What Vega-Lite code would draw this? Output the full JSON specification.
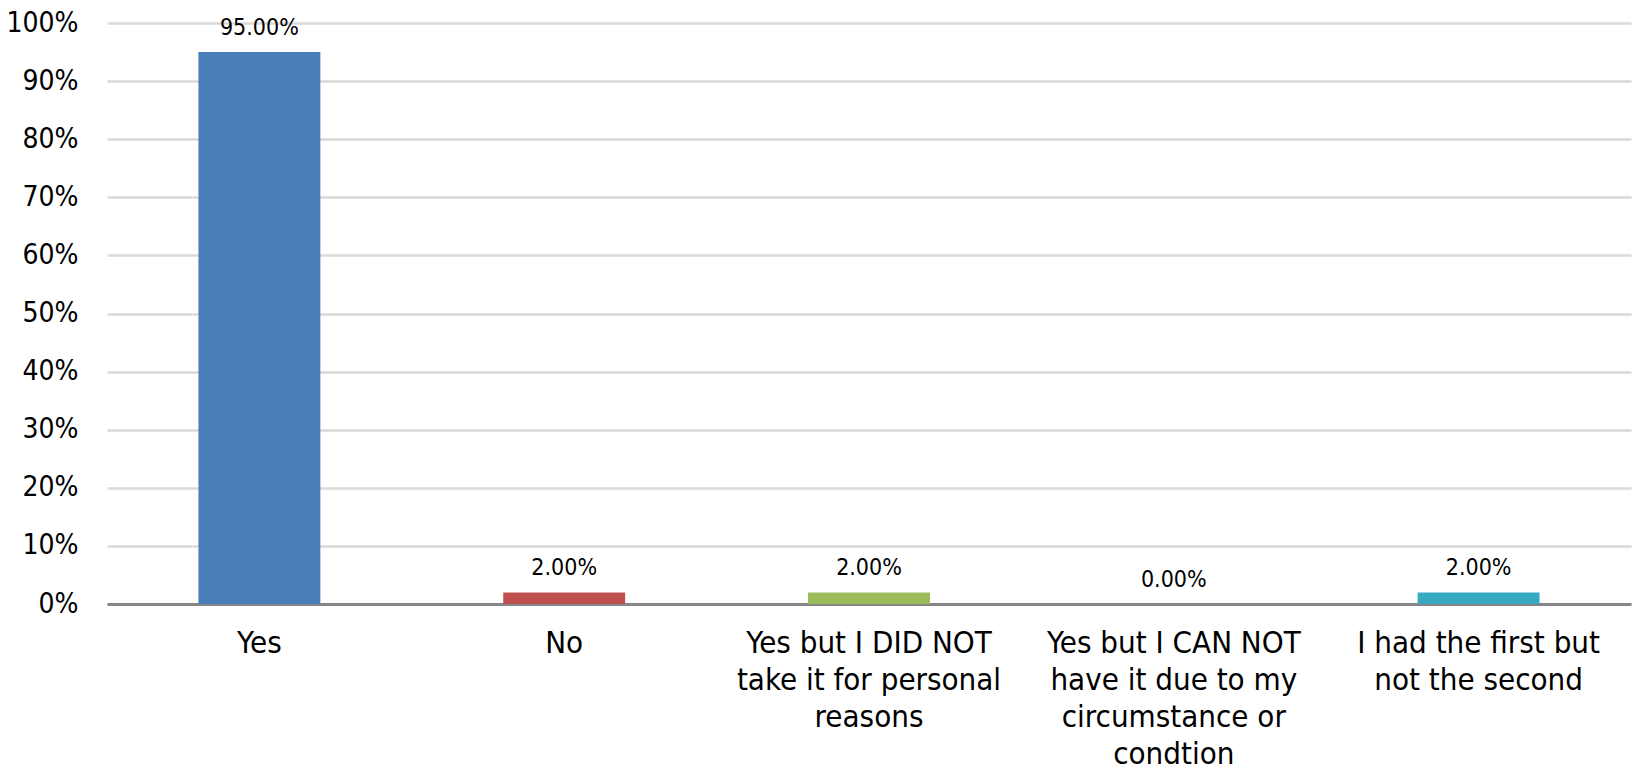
{
  "$schema": "https://vega.github.io/schema/vega-lite/v6.json",
  "width": 1524,
  "height": 581,
  "autosize": {"type": "none"},
  "padding": {"left": 107, "top": 23, "right": 2, "bottom": 166},
  "background": "#ffffff",
  "config": {"view": {"stroke": null}},
  "data": {
    "values": [
      {"answer": "Yes", "share": 0.95},
      {"answer": "No", "share": 0.02},
      {"answer": "Yes but I DID NOT\ntake it for personal\nreasons", "share": 0.02},
      {"answer": "Yes but I CAN NOT\nhave it due to my\ncircumstance or\ncondtion", "share": 0.0},
      {"answer": "I had the first but\nnot the second", "share": 0.02}
    ]
  },
  "encoding": {
    "x": {
      "field": "answer",
      "type": "nominal",
      "sort": null,
      "scale": {"paddingInner": 0.6, "paddingOuter": 0.3},
      "axis": {
        "title": null,
        "labelAngle": 0,
        "ticks": false,
        "domain": true,
        "domainColor": "#868686",
        "domainWidth": 3,
        "labelFont": "DejaVu Sans Condensed",
        "labelFontSize": 31,
        "labelLineHeight": 37,
        "labelColor": "#000000",
        "labelPadding": 24,
        "labelLimit": 400,
        "labelExpr": "split(datum.label, '\\n')"
      }
    },
    "y": {
      "field": "share",
      "type": "quantitative",
      "scale": {"domain": [0, 1], "nice": false},
      "axis": {
        "title": null,
        "format": ".0%",
        "values": [0, 0.1, 0.2, 0.3, 0.4, 0.5, 0.6, 0.7, 0.8, 0.9, 1],
        "ticks": false,
        "domain": false,
        "grid": true,
        "gridColor": "#D9D9D9",
        "gridWidth": 2.5,
        "labelFont": "DejaVu Sans Condensed",
        "labelFontSize": 28,
        "labelColor": "#000000",
        "labelPadding": 29
      }
    }
  },
  "layer": [
    {
      "mark": {"type": "bar"},
      "encoding": {
        "color": {
          "field": "answer",
          "type": "nominal",
          "sort": null,
          "legend": null,
          "scale": {"range": ["#4A7EBB", "#C0504D", "#9BBB59", "#8064A2", "#38A9C3"]}
        }
      }
    },
    {
      "mark": {
        "type": "text",
        "baseline": "alphabetic",
        "align": "center",
        "dy": -17,
        "font": "DejaVu Sans Condensed",
        "fontSize": 23,
        "color": "#000000"
      },
      "encoding": {
        "text": {"field": "share", "type": "quantitative", "format": ".2%"}
      }
    }
  ]
}
